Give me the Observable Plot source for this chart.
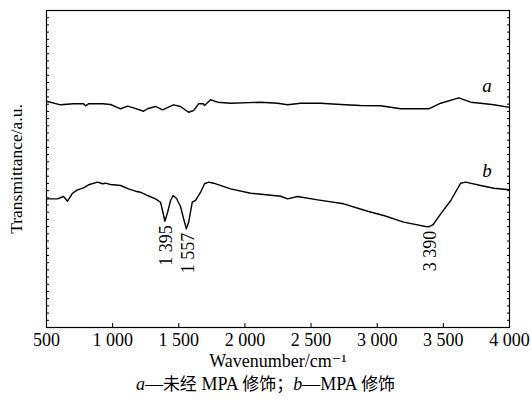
<!DOCTYPE html>
<html>
<head>
<meta charset="utf-8">
<script src="https://cdn.jsdelivr.net/npm/d3@7"></script>
<script src="https://cdn.jsdelivr.net/npm/@observablehq/plot@0.6"></script>
<style>
  html, body { margin: 0; padding: 0; background: #fff; }
  #chart { width: 531px; }
  #chart svg, #chart svg text { font-family: "Liberation Serif", "DejaVu Serif", serif !important; }
  #caption { width: 531px; text-align: center; font-family: "Liberation Serif", "DejaVu Serif", serif; font-size: 18px; line-height: 20px; color: #000; margin-top: 1px; }
  #caption .cjk { font-family: "Noto Sans CJK SC", sans-serif; font-size: 17px; }
</style>
</head>
<body>
<div id="chart"></div>
<div id="caption"><i>a</i>—<span class="cjk">未经</span> MPA <span class="cjk">修饰；</span><i>b</i>—MPA <span class="cjk">修饰</span></div>
<script>
// Series a: unmodified
const waveA = [500, 606, 704, 780, 795, 818, 924, 984, 1060, 1113, 1158, 1234, 1264, 1324, 1377, 1460, 1513, 1574, 1612, 1650, 1687, 1695, 1740, 1793, 1892, 2118, 2247, 2323, 2421, 2572, 2724, 2875, 3026, 3177, 3389, 3480, 3616, 3707, 3782, 3881, 4000];
const transA = [31.41, 30.91, 31.05, 31.05, 30.77, 31.05, 31.05, 30.95, 30.36, 30.72, 30.49, 30.02, 30.36, 30.68, 30.22, 30.91, 30.68, 29.88, 30.12, 31.05, 31.05, 30.81, 31.61, 31.27, 31.13, 31.27, 31.13, 30.91, 31.13, 31.13, 30.95, 30.81, 30.77, 30.36, 30.36, 31.13, 31.88, 31.27, 31.13, 30.91, 30.55];
// Series b: MPA modified
const waveB = [500, 583, 629, 659, 697, 734, 780, 818, 886, 924, 946, 984, 1060, 1120, 1173, 1211, 1264, 1324, 1362, 1377, 1395, 1415, 1438, 1457, 1483, 1513, 1536, 1557, 1574, 1602, 1627, 1665, 1695, 1725, 1763, 1892, 2043, 2270, 2323, 2398, 2550, 2746, 2928, 3049, 3200, 3366, 3390, 3420, 3480, 3556, 3631, 3669, 3782, 3881, 4000];
const transB = [17.86, 17.86, 18.18, 17.53, 18.64, 19.11, 19.39, 19.81, 20.17, 19.95, 20.03, 19.85, 19.71, 19.25, 18.92, 18.78, 18.32, 17.86, 17.39, 16.24, 14.75, 15.96, 17.63, 18.32, 17.91, 16.80, 15.13, 13.70, 14.57, 17.39, 17.63, 18.78, 19.95, 20.17, 20.03, 19.25, 18.64, 18.22, 17.86, 18.18, 17.72, 17.17, 16.14, 15.55, 14.62, 14.02, 13.98, 14.23, 15.78, 17.63, 20.03, 20.17, 19.71, 19.33, 19.11];
// Peak annotations on b
const peakWave = [1395, 1557, 3390];
const peakTrans = [14.75, 13.70, 13.98];
const peakLabels = ["1 395", "1 557", "3 390"];
// Series labels
const seriesNames = ["a", "b"];
const seriesLabelWave = [3830, 3830];
const seriesLabelTrans = [33.6, 21.8];
// Axis ticks
const xTicks = [500, 1000, 1500, 2000, 2500, 3000, 3500, 4000];
const xTickLabels = ["500", "1 000", "1 500", "2 000", "2 500", "3 000", "3 500", "4 000"];
const yTicks = d3.range(0, 45, 1);

const dataA = waveA.map((w, i) => ({w, t: transA[i]}));
const dataB = waveB.map((w, i) => ({w, t: transB[i]}));
const peaks = peakWave.map((w, i) => ({w, t: peakTrans[i], label: peakLabels[i]}));
const names = seriesNames.map((n, i) => ({w: seriesLabelWave[i], t: seriesLabelTrans[i], n}));

const font = "Liberation Serif, DejaVu Serif, serif";

const chart = Plot.plot({
  width: 531,
  height: 372,
  marginLeft: 46,
  marginRight: 22,
  marginTop: 10,
  marginBottom: 45,
  style: {fontFamily: font, fontSize: "18px", color: "#000", background: "#fff"},
  x: {domain: [500, 4000]},
  y: {domain: [0, 44]},
  marks: [
    Plot.axisX({ticks: xTicks, tickSize: -4, tickPadding: 10, tickFormat: (d) => xTickLabels[xTicks.indexOf(d)], fontSize: 18, label: "Wavenumber/cm⁻¹", labelAnchor: "center", labelArrow: "none", labelOffset: 39}),
    Plot.axisY({ticks: yTicks, tickSize: -3, tickFormat: () => "", label: "Transmittance/a.u.", labelAnchor: "center", labelArrow: "none", labelOffset: 37, fontSize: 17.5}),
    Plot.axisY({anchor: "right", ticks: yTicks, tickSize: -3, tickFormat: () => "", label: null}),
    Plot.frame({stroke: "#000", strokeWidth: 1.2}),
    Plot.line(dataA, {x: "w", y: "t", stroke: "#000", strokeWidth: 1.4}),
    Plot.line(dataB, {x: "w", y: "t", stroke: "#000", strokeWidth: 1.4}),
    Plot.text(peaks, {x: "w", y: "t", text: "label", rotate: -90, textAnchor: "end", dx: 1.5, dy: 4, fontSize: 18, fill: "#000"}),
    Plot.text(names, {x: "w", y: "t", text: "n", fontStyle: "italic", fontSize: 19, fill: "#000"})
  ]
});
document.getElementById("chart").appendChild(chart);
</script>
</body>
</html>
